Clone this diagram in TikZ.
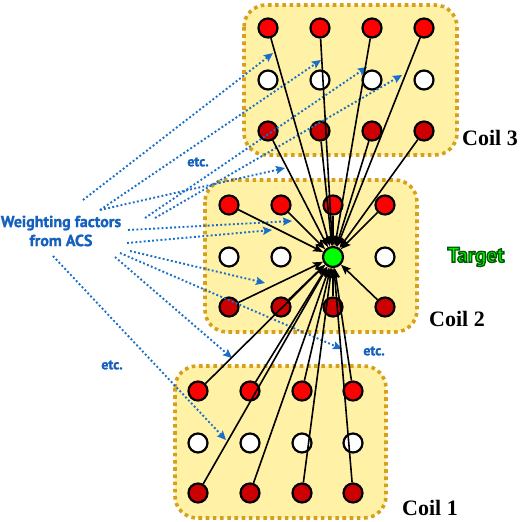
\documentclass[tikz,border=0pt]{standalone}
\usepackage{fontspec}
\setmainfont{Liberation Serif}
\newfontfamily\wffont{PT Sans}[BoldFeatures={FakeBold=1.2}]
\newfontfamily\tgfont{PT Sans}
\usetikzlibrary{arrows.meta}

\definecolor{boxfill}{RGB}{255,242,166}
\definecolor{boxedge}{RGB}{214,160,28}
\definecolor{cred}{RGB}{255,0,0}
\definecolor{cdark}{RGB}{204,0,0}
\definecolor{cgreen}{RGB}{0,255,0}
\definecolor{wblue}{RGB}{21,96,189}
\definecolor{ablue}{RGB}{24,110,200}

\tikzset{
  coilbox/.style={fill=boxfill, draw=boxedge, line width=3.6pt, dash pattern=on 3.6pt off 3.6pt, rounded corners=22pt},
  elem/.style={circle, draw=black, line width=2.2pt, minimum size=19pt, inner sep=0pt},
  redelem/.style={elem, fill=cred},
  darkelem/.style={elem, fill=cdark},
  offelem/.style={elem, fill=white},
  tgtelem/.style={elem, fill=cgreen, minimum size=20pt},
  feed/.style={line width=1.6pt, -{Stealth[length=10pt,width=8pt,inset=2pt]}},
  wfarrow/.style={draw=ablue, line width=1.9pt, dash pattern=on 1.9pt off 2.3pt, -{Stealth[length=9pt,width=8pt,inset=1.5pt]}},
  coillabel/.style={font=\bfseries\fontsize{22}{24}\selectfont, inner sep=0pt},
  etclabel/.style={text=wblue, font=\wffont\bfseries\fontsize{14}{16}\selectfont, inner sep=0pt},
  wflabel/.style={text=wblue, font=\wffont\bfseries\fontsize{16}{19}\selectfont, inner sep=0pt, align=center},
}

\begin{document}
\begin{tikzpicture}[x=1pt,y=-1pt]
\useasboundingbox (0,0) rectangle (520,522);

% coil boxes
\draw[coilbox] (244,5) rectangle (457,155);
\draw[coilbox] (205,180) rectangle (417,332);
\draw[coilbox] (175,366) rectangle (386,518);

% coil 3 elements
\foreach \c/\x in {1/268,2/320,3/372,4/424}{
  \node[redelem]  (c3-1-\c) at (\x,28) {};
  \node[offelem]  (c3-2-\c) at (\x,80) {};
  \node[darkelem] (c3-3-\c) at (\x,131) {};
}
% coil 2 elements
\foreach \c/\x in {1/229,2/281,3/333,4/385}{
  \node[redelem]  (c2-1-\c) at (\x,205) {};
  \node[darkelem] (c2-3-\c) at (\x,307) {};
}
\node[offelem] (c2-2-1) at (229,257) {};
\node[offelem] (c2-2-2) at (281,257) {};
\node[tgtelem] (tgt) at (333,257) {};
\node[offelem] (c2-2-4) at (385,257) {};
% coil 1 elements
\foreach \c/\x in {1/198,2/250,3/302,4/353}{
  \node[redelem]  (c1-1-\c) at (\x,391) {};
  \node[offelem]  (c1-2-\c) at (\x,443) {};
  \node[darkelem] (c1-3-\c) at (\x,493) {};
}

% labels
\node[wflabel] (wf) at (61,231) {Weighting factors\\from ACS};
\node[etclabel] (etc1) at (198,162) {etc.};
\node[etclabel] (etc2) at (374,351) {etc.};
\node[etclabel] (etc3) at (112,365) {etc.};
\node[coillabel] (lab3) at (490,138) {Coil 3};
\node[coillabel] (lab2) at (457,319) {Coil 2};
\node[coillabel] (lab1) at (430,508) {Coil 1};

% blue weighting arrows
\coordinate (s1) at (83,200);   \coordinate (e1) at (273,53);
\coordinate (s2) at (100,210);  \coordinate (e2) at (321,60);
\coordinate (s3) at (145,218);  \coordinate (e3) at (367,67);
\coordinate (s4) at (155,218);  \coordinate (e4) at (402,75);
\coordinate (e5) at (285,168);
\coordinate (s6) at (128,230);  \coordinate (e6) at (292,221);
\coordinate (s7) at (127,243);  \coordinate (e7) at (272,230);
\coordinate (s8) at (130,251);  \coordinate (e8) at (265,283);
\coordinate (s9) at (120,253);  \coordinate (e9) at (342,349);
\coordinate (s10) at (115,257); \coordinate (e10) at (232,358);
\coordinate (s11) at (53,256);  \coordinate (e11) at (226,440);
\draw[wfarrow] (s1) -- (e1);
\draw[wfarrow] (s2) -- (e2);
\draw[wfarrow] (s3) -- (e3);
\draw[wfarrow] (s4) -- (e4);
\draw[wfarrow] (s2) -- (e5);
\draw[wfarrow] (s6) -- (e6);
\draw[wfarrow] (s7) -- (e7);
\draw[wfarrow] (s8) -- (e8);
\draw[wfarrow] (s9) -- (e9);
\draw[wfarrow] (s10) -- (e10);
\draw[wfarrow] (s11) -- (e11);

% feed lines to target
\foreach \k in {1,2,3}{
  \foreach \r in {1,3}{
    \foreach \c in {1,2,3,4}{
      \draw[feed] (c\k-\r-\c) -- (tgt);
    }
  }
}

\node[inner sep=0pt, text=cgreen, font=\tgfont\bfseries\fontsize{21}{23}\selectfont] (tlab) at (476,257)
  {\special{pdf:literal direct 0 0.35 0 RG 1.4 w 2 Tr}Target\special{pdf:literal direct 0 Tr}};
\end{tikzpicture}
\end{document}
